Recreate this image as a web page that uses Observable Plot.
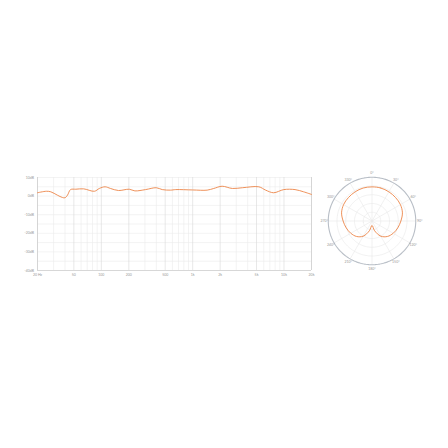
<!DOCTYPE html>
<html>
<head>
<meta charset="utf-8">
<script src="https://cdn.jsdelivr.net/npm/d3@7"></script>
<script src="https://cdn.jsdelivr.net/npm/@observablehq/plot@0.6"></script>
<style>
  html, body { margin: 0; padding: 0; background: #fff; }
  #wrap { position: relative; width: 448px; height: 448px; overflow: hidden; background: #fff; }
  #fr { position: absolute; left: 0; top: 165px; }
  #polar { position: absolute; left: 319px; top: 168px; }
</style>
</head>
<body>
<div id="wrap"><div id="fr"></div><div id="polar"></div></div>
<script>
// Frequency response (Hz, dB)
const freqs = [20, 25, 28, 33, 37.5, 40, 42.6, 46, 52.6, 64, 84, 95, 110, 126, 154, 202, 233, 305, 400, 464, 573, 652, 1000, 1440, 1700, 2100, 2720, 3500, 5300, 6300, 7700, 9950, 13200, 16400, 20000];
const levels = [1.8, 2.6, 2.3, 0.5, -0.75, -0.9, 0.5, 3.5, 3.7, 3.9, 2.6, 4.1, 5.0, 4.1, 3.0, 3.7, 2.8, 3.5, 4.5, 3.5, 3.2, 3.5, 3.3, 3.2, 4.1, 5.3, 4.1, 4.5, 5.0, 3.2, 1.8, 3.5, 3.5, 2.3, 0.9];
const freqTicks = [20, 50, 100, 200, 500, 1000, 2000, 5000, 10000, 20000];
const freqTickLabels = ["20 Hz", "50", "100", "200", "500", "1k", "2k", "5k", "10k", "20k"];
const dbTicks = [10, 0, -10, -20, -30, -40];
const dbTickLabels = ["10dB", "0dB", "-10dB", "-20dB", "-30dB", "-40dB"];
const dbGrid = [10, 5, 0, -5, -10, -15, -20, -25, -30, -35, -40];
const freqGrid = [20,30,40,50,60,70,80,90,100,200,300,400,500,600,700,800,900,1000,2000,3000,4000,5000,6000,7000,8000,9000,10000,20000];

// Polar pattern (bearing degrees clockwise from top, relative radius)
const angles = [0,15,30,45,60,75,90,105,120,135,150,165,180,195,210,225,240,255,270,285,300,315,330,345];
const radii = [0.78,0.78,0.77,0.76,0.75,0.72,0.66,0.61,0.56,0.5,0.4,0.23,0.1,0.23,0.4,0.5,0.56,0.61,0.66,0.72,0.75,0.76,0.77,0.78];
const labelAngles = [0,30,60,90,120,150,180,210,240,270,300,330];
const rings = [0.2, 0.4, 0.6, 0.8];

const curveData = freqs.map((f, i) => ({f, db: levels[i]}));
const tickLabel = new Map(freqTicks.map((t, i) => [t, freqTickLabels[i]]));
const dbLabel = new Map(dbTicks.map((t, i) => [t, dbTickLabels[i]]));

const fr = Plot.plot({
  width: 320, height: 120,
  marginLeft: 37, marginRight: 9, marginTop: 12, marginBottom: 15,
  style: {fontSize: "3.5px", fontFamily: "Lato, sans-serif", color: "#999", background: "transparent"},
  x: {type: "log", domain: [20, 20000], axis: null},
  y: {domain: [-40, 10], axis: null},
  marks: [
    Plot.ruleY(dbGrid, {stroke: "#ebebeb", strokeWidth: 0.6}),
    Plot.ruleX(freqGrid, {stroke: d => freqTicks.includes(d) ? "#d9d9d9" : "#ebebeb", strokeWidth: 0.6}),
    Plot.ruleX([20, 20000], {stroke: "#cfcfcf", strokeWidth: 0.8}),
    Plot.ruleY([-40], {stroke: "#cfcfcf", strokeWidth: 0.8}),
    Plot.text(freqTicks, {x: d => d, frameAnchor: "bottom", dy: 5, text: d => tickLabel.get(d), fill: "#999"}),
    Plot.text(dbTicks, {y: d => d, frameAnchor: "left", dx: -3.5, textAnchor: "end", text: d => dbLabel.get(d), fill: "#999"}),
    Plot.line(curveData, {x: "f", y: "db", stroke: "#ec8447", strokeWidth: 0.9, curve: "catmull-rom"})
  ]
});
document.getElementById("fr").appendChild(fr);

// Polar chart via azimuthal projection: radius r -> 50° of arc
const R = 50;
const lon = a => 180 - a;
const pts = angles.map((a, i) => ({a, r: radii[i]}));
const polar = Plot.plot({
  width: 105, height: 105,
  margin: 0,
  style: {fontSize: "3.5px", fontFamily: "Lato, sans-serif", color: "#999", background: "transparent"},
  projection: {
    type: "azimuthal-equidistant",
    rotate: [0, -90],
    domain: d3.geoCircle().center([0, 90]).radius(60)()
  },
  marks: [
    Plot.geo(rings, {geometry: r => d3.geoCircle().center([0, 90]).radius(r * R)(), stroke: "#e8e8e8", strokeWidth: 0.6, fill: "none"}),
    Plot.link(labelAngles, {x1: d => lon(d), y1: 90 - R, x2: d => lon(d), y2: 90, stroke: "#e8e8e8", strokeWidth: 0.6}),
    Plot.geo([1], {geometry: r => d3.geoCircle().center([0, 90]).radius(r * R)(), stroke: "#b8bec6", strokeWidth: 1.1, fill: "none"}),
    Plot.line(pts, {x: d => lon(d.a), y: d => 90 - d.r * R, stroke: "#ec8447", strokeWidth: 0.9, curve: "catmull-rom-closed"}),
    Plot.text(labelAngles, {x: d => lon(d), y: 90 - 54.5, text: d => d + "°", fill: "#999"})
  ]
});
document.getElementById("polar").appendChild(polar);
</script>
</body>
</html>
